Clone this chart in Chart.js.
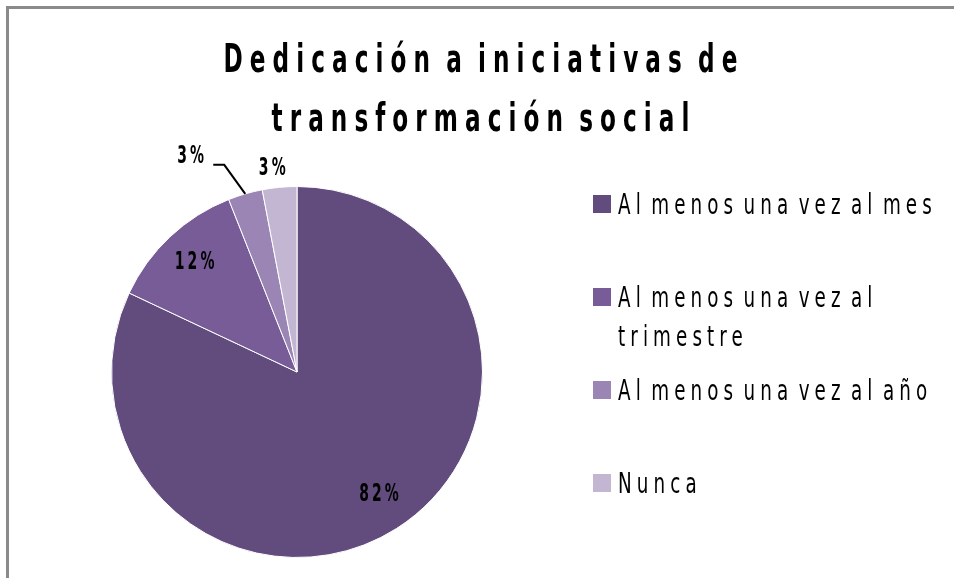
<!DOCTYPE html>
<html>
<head>
<meta charset="utf-8">
<script src="https://cdn.jsdelivr.net/npm/chart.js@4.4.1/dist/chart.umd.min.js"></script>
<style>
  body { margin: 0; background: #fff; width: 954px; height: 578px; overflow: hidden; position: relative;
         font-family: "DejaVu Sans Condensed", "DejaVu Sans", sans-serif; color: #000; }
  #frame { position: absolute; left: 6px; top: 6px; width: 1000px; height: 1000px; border: 3px solid #8a8a8a; }
  #pie { position: absolute; left: 0; top: 0; }
  .title { position: absolute; left: 0; width: 968px; text-align: center; white-space: nowrap;
           font-weight: bold; font-size: 39px; line-height: 40px; letter-spacing: 10.7px; word-spacing: -9px;
           transform: scaleX(0.66); transform-origin: 484px 0; }
  .item { position: absolute; left: 593px; }
  .item .box { position: absolute; left: 0; top: 0; width: 18px; height: 18px; }
  .item .txt { position: absolute; left: 25px; top: -10px; width: 450px; font-size: 27.5px; line-height: 39px;
               letter-spacing: 6.9px; word-spacing: -7.5px; transform: scaleX(0.74); transform-origin: 0 0; }
</style>
</head>
<body>
<div id="frame"></div>
<canvas id="pie" width="954" height="578"></canvas>
<div class="title" style="top:38.5px">Dedicación a iniciativas de</div>
<div class="title" style="top:97.5px">transformación social</div>
<div id="legend"></div>
<script>
// datos del gráfico
const categorias = ["Al menos una vez al mes", "Al menos una vez al trimestre", "Al menos una vez al año", "Nunca"];
const porcentajes = [82, 12, 3, 3];
const colores = ["#614C7D", "#775C97", "#9A85B4", "#C2B6D3"];

// leyenda
const legend = document.getElementById("legend");
categorias.forEach((cat, i) => {
    const item = document.createElement("div");
    item.className = "item";
    item.style.top = (195 + i * 93) + "px";
    const box = document.createElement("div");
    box.className = "box";
    box.style.background = colores[i];
    const txt = document.createElement("div");
    txt.className = "txt";
    txt.textContent = cat;
    item.appendChild(box);
    item.appendChild(txt);
    legend.appendChild(item);
});

// etiquetas de porcentaje sobre las porciones
const etiquetas = {
    id: "etiquetas",
    afterDatasetsDraw(chart) {
        const ctx = chart.ctx;
        const meta = chart.getDatasetMeta(0);
        const dist = [0.78, 0.81, null, 1.1];
        meta.data.forEach((arc, i) => {
            const p = arc.getProps(["x", "y", "startAngle", "endAngle", "outerRadius"], true);
            const mid = (p.startAngle + p.endAngle) / 2;
            let lx, ly;
            if (dist[i] === null) {
                // etiqueta con línea guía
                const ex = p.x + Math.cos(mid) * p.outerRadius;
                const ey = p.y + Math.sin(mid) * p.outerRadius;
                const cx = ex - 21, cy = ey - 29;
                ctx.save();
                ctx.strokeStyle = "#000";
                ctx.lineWidth = 2;
                ctx.beginPath();
                ctx.moveTo(ex, ey);
                ctx.lineTo(cx, cy);
                ctx.lineTo(cx - 11, cy);
                ctx.stroke();
                ctx.restore();
                lx = cx - 34;
                ly = cy - 8;
            } else {
                lx = p.x + Math.cos(mid) * p.outerRadius * dist[i];
                ly = p.y + Math.sin(mid) * p.outerRadius * dist[i];
            }
            if (i === 3) lx -= 6;
            if (i === 0) lx += 4;
            ctx.save();
            ctx.translate(lx + 2, ly);
            ctx.scale(0.62, 1);
            ctx.letterSpacing = "5px";
            ctx.font = "bold 25px 'DejaVu Sans Condensed', 'DejaVu Sans', sans-serif";
            ctx.fillStyle = "#000";
            ctx.textAlign = "center";
            ctx.textBaseline = "middle";
            ctx.fillText(porcentajes[i] + "%", 0, 0);
            ctx.restore();
        });
    }
};

new Chart(document.getElementById("pie"), {
    type: "pie",
    data: {
        labels: categorias,
        datasets: [{
            data: porcentajes,
            backgroundColor: colores,
            borderColor: "#ffffff",
            borderWidth: 1
        }]
    },
    options: {
        responsive: false,
        animation: false,
        devicePixelRatio: 1,
        layout: { padding: { left: 111, right: 471, top: 186, bottom: 20 } },
        plugins: {
            legend: { display: false },
            title: { display: false },
            tooltip: { enabled: false }
        }
    },
    plugins: [etiquetas]
});
</script>
</body>
</html>
